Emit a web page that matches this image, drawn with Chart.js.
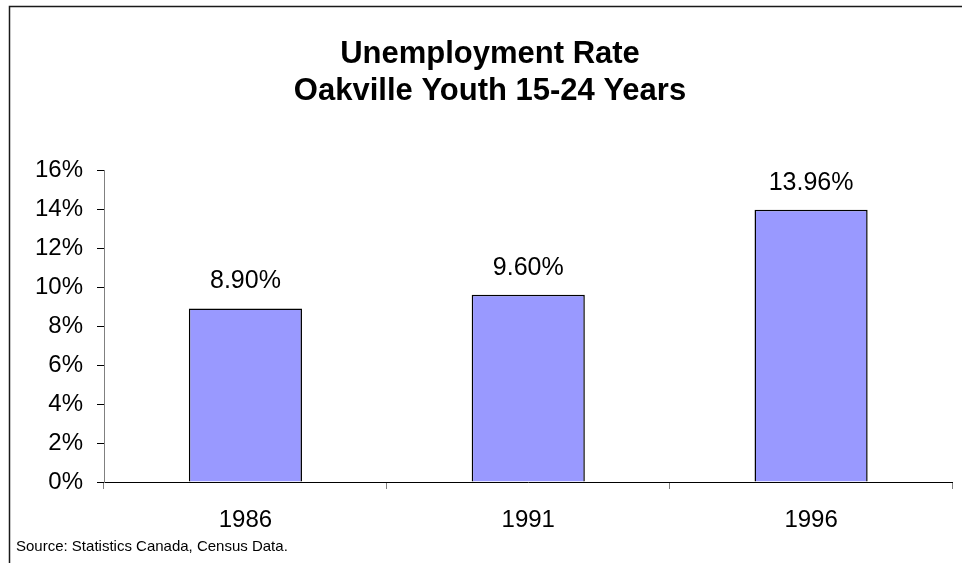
<!DOCTYPE html>
<html>
<head>
<meta charset="utf-8">
<script src="https://cdn.jsdelivr.net/npm/chart.js@4/dist/chart.umd.min.js"></script>
<style>
  html, body { margin: 0; padding: 0; background: #ffffff; }
  #wrap { width: 962px; height: 563px; }
</style>
</head>
<body>
<div id="wrap"><canvas id="c" width="962" height="563"></canvas></div>
<script>
// Census years and youth unemployment rate (%)
const years = ['1986', '1991', '1996'];
const rates = [8.90, 9.60, 13.96];
const yTicks = [0, 2, 4, 6, 8, 10, 12, 14, 16];
const titleLines = ['Unemployment Rate', 'Oakville Youth 15-24 Years'];
const sourceNote = 'Source: Statistics Canada, Census Data.';

const FONT = "'Liberation Sans', Arial, Helvetica, sans-serif";

// Frame, titles and source note drawn around the plot
const decorations = {
  id: 'decorations',
  beforeDraw(chart) {
    const ctx = chart.ctx;
    ctx.save();
    ctx.fillStyle = '#ffffff';
    ctx.fillRect(0, 0, chart.width, chart.height);
    ctx.strokeStyle = '#1a1a1a';
    ctx.lineWidth = 1.5;
    ctx.strokeRect(9.5, 6.5, chart.width + 20, chart.height + 20);
    ctx.restore();
  },
  afterDraw(chart) {
    const ctx = chart.ctx;
    ctx.save();
    ctx.fillStyle = '#000000';
    ctx.textAlign = 'center';
    ctx.textBaseline = 'alphabetic';
    ctx.font = 'bold 31px ' + FONT;
    ctx.fillText(titleLines[0], 490, 63);
    ctx.fillText(titleLines[1], 490, 100);
    ctx.textAlign = 'left';
    ctx.font = '15px ' + FONT;
    ctx.fillText(sourceNote, 16, 551);
    ctx.restore();
  }
};

// Value labels above each bar
const valueLabels = {
  id: 'valueLabels',
  afterDatasetsDraw(chart) {
    const ctx = chart.ctx;
    const meta = chart.getDatasetMeta(0);
    ctx.save();
    ctx.fillStyle = '#000000';
    ctx.font = '25px ' + FONT;
    ctx.textAlign = 'center';
    ctx.textBaseline = 'alphabetic';
    meta.data.forEach((bar, i) => {
      ctx.fillText(rates[i].toFixed(2) + '%', bar.x, bar.y - 20);
    });
    ctx.restore();
  }
};

new Chart(document.getElementById('c'), {
  type: 'bar',
  data: {
    labels: years,
    datasets: [{
      data: rates,
      backgroundColor: '#9999ff',
      borderColor: '#000000',
      borderWidth: 1.5,
      barPercentage: 0.4,
      categoryPercentage: 1.0
    }]
  },
  options: {
    responsive: false,
    animation: false,
    devicePixelRatio: 1,
    layout: { padding: { top: 170, right: 9.5, bottom: 0, left: 0 } },
    plugins: {
      legend: { display: false },
      title: { display: false },
      tooltip: { enabled: false }
    },
    scales: {
      x: {
        afterFit(s) { s.height = 81; },
        border: { display: true, color: '#000000', width: 1 },
        grid: {
          display: true,
          offset: true,
          drawOnChartArea: false,
          drawTicks: true,
          tickLength: 7,
          tickColor: '#808080'
        },
        ticks: {
          color: '#000000',
          padding: 17,
          font: { family: FONT, size: 24 }
        }
      },
      y: {
        min: 0,
        max: 16,
        afterFit(s) { s.width = 104; },
        afterBuildTicks(s) { s.ticks = yTicks.map(v => ({ value: v })); },
        border: { display: true, color: '#808080', width: 1 },
        grid: {
          display: true,
          drawOnChartArea: false,
          drawTicks: true,
          tickLength: 7,
          tickColor: '#000000'
        },
        ticks: {
          color: '#000000',
          padding: 14,
          font: { family: FONT, size: 24 },
          callback: v => v + '%'
        }
      }
    }
  },
  plugins: [decorations, valueLabels]
});
</script>
</body>
</html>
